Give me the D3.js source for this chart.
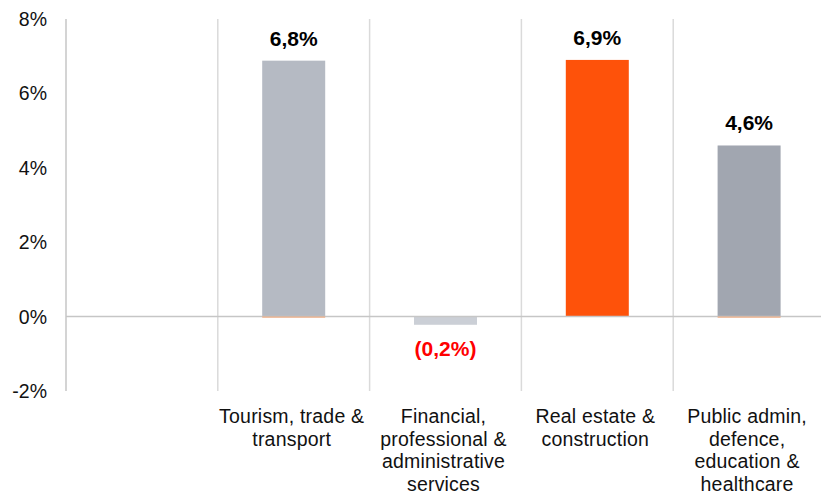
<!DOCTYPE html>
<html>
<head>
<meta charset="utf-8">
<script src="https://cdn.jsdelivr.net/npm/d3@7"></script>
<style>
  body { margin: 0; background: #fff; }
  svg { display: block; font-family: "Liberation Sans", Arial, sans-serif; }
</style>
</head>
<body>
<div id="vizHolder"></div>
<script>
// categories (first slot is empty in the source chart)
var categories = ['', 'Tourism, trade & transport', 'Financial, professional & administrative services', 'Real estate & construction', 'Public admin, defence, education & healthcare'];
var catLines = [
  [],
  ['Tourism, trade &', 'transport'],
  ['Financial,', 'professional &', 'administrative', 'services'],
  ['Real estate &', 'construction'],
  ['Public admin,', 'defence,', 'education &', 'healthcare']
];
var values = [null, 6.88, -0.22, 6.9, 4.6];
var valueLabels = ['', '6,8%', '(0,2%)', '6,9%', '4,6%'];
var barColors = [null, '#b5bac3', '#cbcfd6', '#fe520a', '#a1a6b0'];
var yTicks = [-2, 0, 2, 4, 6, 8];

var width = 821,
    height = 493,
    mLeft = 66,
    mRight = 821,
    mTop = 19,
    mBottom = 391;

var svg = d3.select('#vizHolder')
        .append('svg')
        .attr('width', width)
        .attr('height', height);

var x = d3.scaleBand()
        .domain(d3.range(categories.length))
        .range([mLeft, mRight + 4])
        .paddingInner(0.585)
        .paddingOuter(0.2925);

var xb = d3.scaleBand()
        .domain(d3.range(categories.length))
        .range([mLeft, mRight + 4]);

var y = d3.scaleLinear()
        .domain([-2, 8])
        .range([mBottom, mTop]);

/* ----------- grid ----------- */
svg.append('line')
    .attr('x1', mLeft).attr('x2', mLeft)
    .attr('y1', mTop).attr('y2', mBottom)
    .attr('stroke', '#c6c6c6').attr('stroke-width', 1.5);

svg.selectAll('line.vgrid')
    .data(d3.range(1, categories.length))
    .enter().append('line')
    .attr('class', 'vgrid')
    .attr('x1', function(d){ return xb(d); })
    .attr('x2', function(d){ return xb(d); })
    .attr('y1', mTop).attr('y2', mBottom)
    .attr('stroke', '#dadada').attr('stroke-width', 1.5);

/* ----------- bars ----------- */
var bars = values.map(function(v, i){ return {i: i, v: v}; }).filter(function(d){ return d.v !== null; });

svg.selectAll('rect.bar')
    .data(bars)
    .enter().append('rect')
    .attr('class', 'bar')
    .attr('x', function(d){ return x(d.i); })
    .attr('width', x.bandwidth())
    .attr('y', function(d){ return y(Math.max(0, d.v)); })
    .attr('height', function(d){ return Math.abs(y(d.v) - y(0)); })
    .attr('fill', function(d){ return barColors[d.i]; });

// zero line
svg.append('line')
    .attr('x1', mLeft).attr('x2', mRight)
    .attr('y1', y(0)).attr('y2', y(0))
    .attr('stroke', '#c6c6c6').attr('stroke-width', 1.5);

// faint orange baseline under grey bars
svg.selectAll('line.base')
    .data(bars.filter(function(d){ return d.v > 0 && d.i !== 3; }))
    .enter().append('line')
    .attr('class', 'base')
    .attr('x1', function(d){ return x(d.i); })
    .attr('x2', function(d){ return x(d.i) + x.bandwidth(); })
    .attr('y1', y(0) + 0.5).attr('y2', y(0) + 0.5)
    .attr('stroke', '#f0a070').attr('stroke-width', 1);

/* ----------- value labels ----------- */
svg.selectAll('text.val')
    .data(bars)
    .enter().append('text')
    .attr('class', 'val')
    .attr('x', function(d){ return x(d.i) + x.bandwidth() / 2; })
    .attr('y', function(d){ return d.v >= 0 ? y(d.v) - 15 : y(d.v) + 31; })
    .attr('text-anchor', 'middle')
    .attr('font-size', 21)
    .attr('font-weight', 'bold')
    .attr('fill', function(d){ return d.v < 0 ? '#ff0000' : '#000'; })
    .text(function(d){ return valueLabels[d.i]; });

/* ----------- y ticks ----------- */
svg.selectAll('text.ytick')
    .data(yTicks)
    .enter().append('text')
    .attr('class', 'ytick')
    .attr('x', 47)
    .attr('y', function(d){ return y(d) + 7; })
    .attr('text-anchor', 'end')
    .attr('font-size', 19.5)
    .attr('fill', '#111')
    .text(function(d){ return d + '%'; });

/* ----------- category labels ----------- */
var cat = svg.selectAll('text.cat')
    .data(catLines)
    .enter().append('text')
    .attr('class', 'cat')
    .attr('text-anchor', 'middle')
    .attr('font-size', 19.5)
    .attr('letter-spacing', 0.2)
    .attr('fill', '#111');

cat.selectAll('tspan')
    .data(function(d, i){ return d.map(function(t){ return {t: t, i: i}; }); })
    .enter().append('tspan')
    .attr('x', function(d){ return xb(d.i) + xb.bandwidth() / 2 - 2; })
    .attr('y', function(d, k){ return 423 + k * 22.5; })
    .text(function(d){ return d.t; });
</script>
</body>
</html>
